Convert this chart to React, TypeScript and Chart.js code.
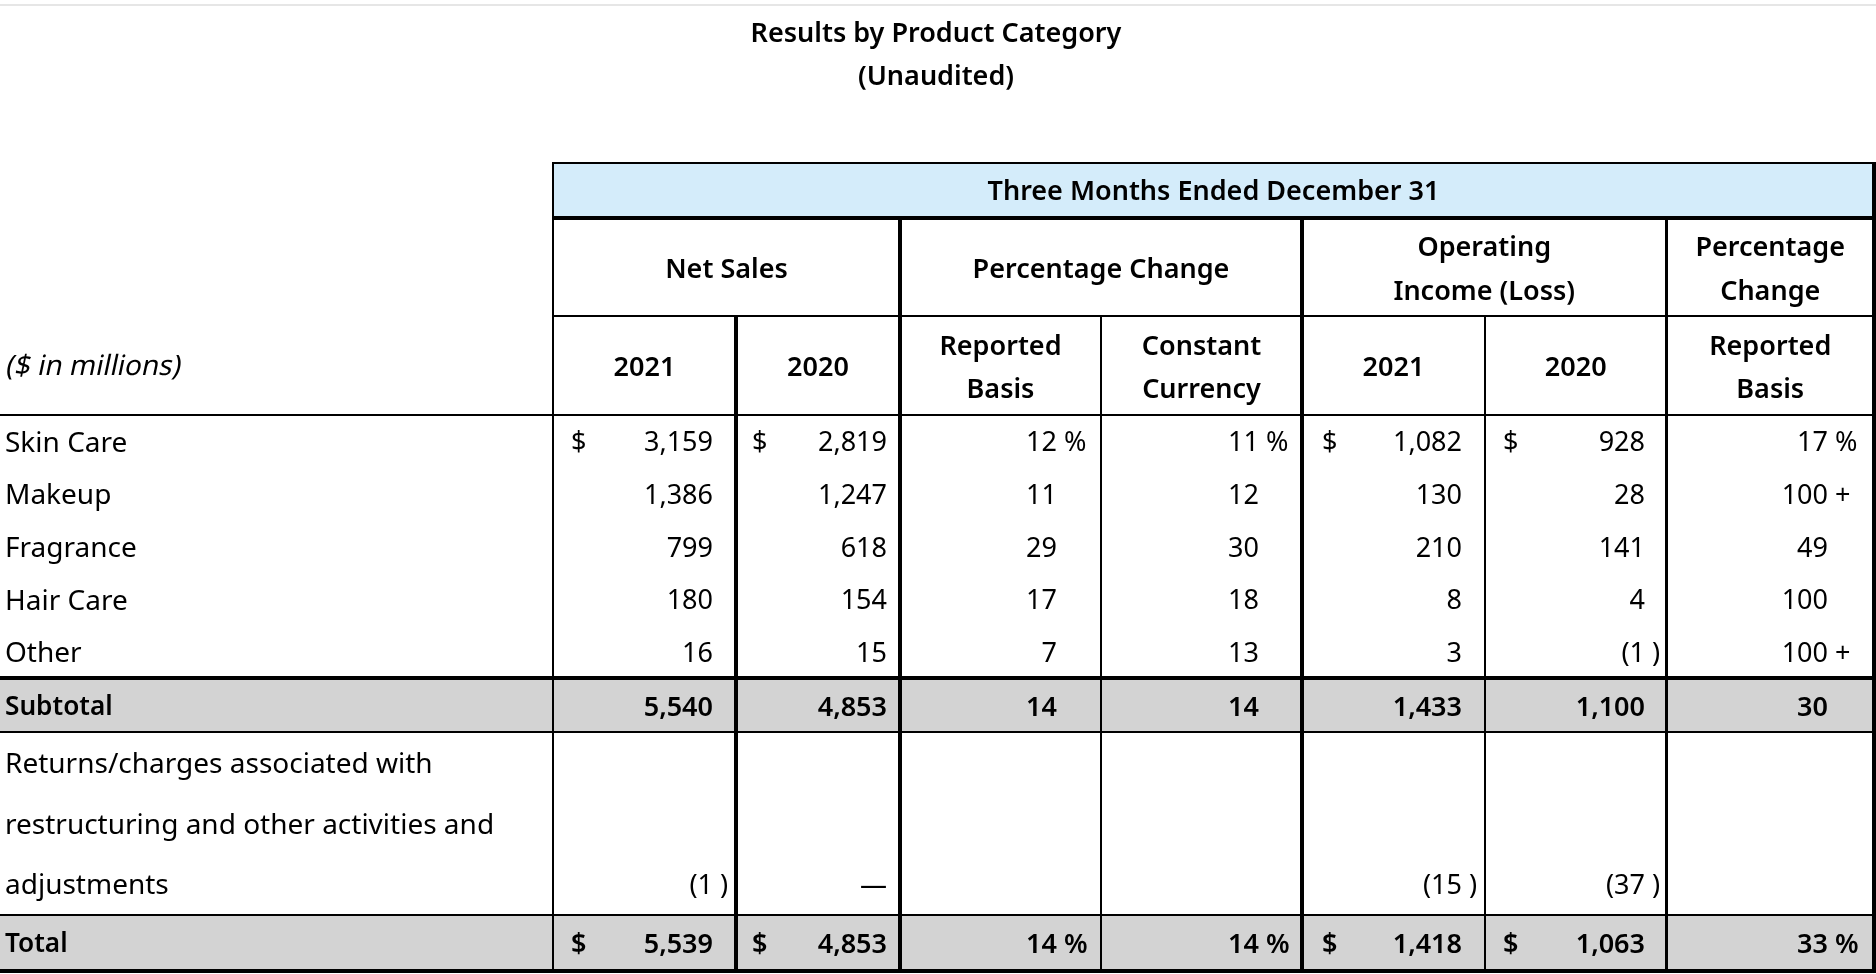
import React, { useEffect, useRef } from "react";
import { Chart, registerables } from "chart.js";

Chart.register(...registerables);

// ---------- data ----------
const titleLines = ["Results by Product Category", "(Unaudited)"];
const periodLabel = "Three Months Ended December 31";
const groupHeaders = ["Net Sales", "Percentage Change", "Operating\nIncome (Loss)", "Percentage\nChange"];
const columnHeaders = ["2021", "2020", "Reported\nBasis", "Constant\nCurrency", "2021", "2020", "Reported\nBasis"];
const unitsLabel = "($ in millions)";

const categories = ["Skin Care", "Makeup", "Fragrance", "Hair Care", "Other"];
const netSales2021 = [3159, 1386, 799, 180, 16];
const netSales2020 = [2819, 1247, 618, 154, 15];
const netSalesReportedPct = [12, 11, 29, 17, 7];
const netSalesConstantPct = [11, 12, 30, 18, 13];
const opIncome2021 = [1082, 130, 210, 8, 3];
const opIncome2020 = [928, 28, 141, 4, -1];
const opIncomeReportedPct: (number | string)[] = [17, "100+", 49, 100, "100+"];

const subtotalLabel = "Subtotal";
const subtotalValues: (number | string | null)[] = [5540, 4853, 14, 14, 1433, 1100, 30];
const returnsLabel = ["Returns/charges associated with", "restructuring and other activities and", "adjustments"];
const returnsValues: (number | string | null)[] = [-1, 0, null, null, -15, -37, null];
const totalLabel = "Total";
const totalValues: (number | string | null)[] = [5539, 4853, 14, 14, 1418, 1063, 33];

// ---------- layout (pixels in the 1876x974 frame) ----------
const W = 1876;
const H = 974;
const FONT = '"Noto Sans", "Open Sans", sans-serif';
const colEdges = [553, 736, 900, 1101, 1302, 1485, 1666.5, 1874];
const colNumRight = [713, 887, 1057, 1259, 1462, 1645, 1828];
const colDollarLeft: (number | null)[] = [571, 752, null, null, 1322, 1503, null];
const colIsPct = [false, false, true, true, false, false, true];
const headTop = 163;
const headRow1Bottom = 218;
const headRow2Bottom = 316;
const headRow3Bottom = 415;
const dataRowH = 52.6;
const subtotalTop = 678;
const subtotalBottom = 732;
const totalTop = 915;
const totalBottom = 971;

const tablePlugin = {
  id: "tableDraw",
  afterDraw(chart: any) {
    const ctx: CanvasRenderingContext2D = chart.ctx;
    const sx = chart.scales.x;
    const sy = chart.scales.y;
    const X = (v: number) => sx.getPixelForValue(v);
    const Y = (v: number) => sy.getPixelForValue(v);
    const cap = (size: number) => size * 0.357;

    const text = (s: string, x: number, cy: number, align: CanvasTextAlign, size: number, weight = "normal", oblique = false) => {
      ctx.save();
      ctx.font = `normal ${weight} ${size}px ${FONT}`;
      ctx.fillStyle = "#000";
      ctx.textAlign = align;
      ctx.textBaseline = "alphabetic";
      const px = X(x);
      const py = Y(cy + cap(size));
      if (oblique) {
        ctx.translate(px, py);
        ctx.transform(1, 0, -0.21, 1, 0, 0);
        ctx.fillText(s, 0, 0);
      } else {
        ctx.fillText(s, px, py);
      }
      ctx.restore();
    };
    const multi = (s: string, x: number, cy: number, gap: number, size: number, weight = "normal") => {
      const lines = s.split("\n");
      const start = cy - ((lines.length - 1) * gap) / 2;
      lines.forEach((ln, i) => text(ln, x, start + i * gap, "center", size, weight));
    };
    const rect = (x0: number, y0: number, x1: number, y1: number, color: string) => {
      ctx.fillStyle = color;
      ctx.fillRect(X(x0), Y(y0), X(x1) - X(x0), Y(y1) - Y(y0));
    };
    const hline = (y: number, x0: number, x1: number, w: number) => rect(x0, y - w / 2, x1, y + w / 2, "#000");
    const vline = (x: number, y0: number, y1: number, w: number) => rect(x - w / 2, y0, x + w / 2, y1, "#000");

    ctx.save();
    // background
    rect(0, 0, W, H, "#ffffff");
    rect(0, 4, W, 6, "#e6e6e6");
    rect(colEdges[0], headTop, colEdges[7], headRow1Bottom, "#d4ecfa");
    rect(0, subtotalTop, colEdges[7], subtotalBottom, "#d3d3d3");
    rect(0, totalTop, colEdges[7], totalBottom, "#d3d3d3");

    const SEMI = "600";
    // titles
    text(titleLines[0], 936, 32, "center", 27, SEMI);
    text(titleLines[1], 936, 75, "center", 27, SEMI);

    // headers
    const HS = 27;
    text(periodLabel, (colEdges[0] + colEdges[7]) / 2, (headTop + headRow1Bottom) / 2, "center", HS, SEMI);
    const groupSpans = [[0, 2], [2, 4], [4, 6], [6, 7]];
    groupHeaders.forEach((g, i) => {
      const [a, b] = groupSpans[i];
      multi(g, (colEdges[a] + colEdges[b]) / 2, (headRow1Bottom + headRow2Bottom) / 2 + 1.5, 44, HS, SEMI);
    });
    columnHeaders.forEach((c, i) => {
      multi(c, (colEdges[i] + colEdges[i + 1]) / 2, (headRow2Bottom + headRow3Bottom) / 2 + 1, 43, HS, SEMI);
    });
    text(unitsLabel, 5, (headRow2Bottom + headRow3Bottom) / 2, "left", 28, "normal", true);

    // cells
    const BS = 28;
    const cell = (v: number | string | null, col: number, cy: number, weight: string, withSymbol: boolean, size: number) => {
      if (withSymbol && colDollarLeft[col] !== null) text("$", colDollarLeft[col] as number, cy, "left", size, weight);
      if (v === null) return;
      const r = colNumRight[col];
      let num = "";
      let suffix = "";
      if (typeof v === "string") {
        const plus = v.endsWith("+");
        num = plus ? v.slice(0, -1) : v;
        if (plus) suffix = " +";
      } else if (v === 0) {
        num = "\u2014";
      } else if (v < 0) {
        num = "(" + Math.abs(v).toLocaleString("en-US");
        suffix = " )";
      } else {
        num = v.toLocaleString("en-US");
        if (withSymbol && colIsPct[col]) suffix = " %";
      }
      text(num, r, cy, "right", size, weight);
      if (suffix) text(suffix, r, cy, "left", size, weight);
    };

    const series = [netSales2021, netSales2020, netSalesReportedPct, netSalesConstantPct, opIncome2021, opIncome2020, opIncomeReportedPct];
    categories.forEach((cat, i) => {
      const cy = headRow3Bottom + dataRowH * (i + 0.5) + 0.5;
      text(cat, 5, cy, "left", BS);
      series.forEach((s, c) => cell(s[i] as any, c, cy, "normal", i === 0, 27));
    });

    const subCy = (subtotalTop + subtotalBottom) / 2 + 1;
    text(subtotalLabel, 5, subCy, "left", 26.2, SEMI);
    subtotalValues.forEach((v, c) => cell(v, c, subCy, SEMI, false, 27));

    const retLines = [763, 824, 884];
    returnsLabel.forEach((ln, i) => text(ln, 5, retLines[i], "left", BS));
    returnsValues.forEach((v, c) => cell(v, c, retLines[2], "normal", false, 27));

    const totCy = (totalTop + totalBottom) / 2;
    text(totalLabel, 5, totCy, "left", 26.2, SEMI);
    totalValues.forEach((v, c) => cell(v, c, totCy, SEMI, true, 27));

    // grid lines
    const right = colEdges[7] + 2;
    hline(headTop, colEdges[0] - 1, right, 2);
    hline(headRow1Bottom, colEdges[0] - 1, right, 4);
    hline(headRow2Bottom, colEdges[0] - 1, right, 2);
    hline(headRow3Bottom, 0, right, 2);
    hline(subtotalTop, 0, right, 4);
    hline(subtotalBottom, 0, right, 2);
    hline(totalTop, 0, right, 2);
    hline(totalBottom, 0, right, 4);

    const bottom = totalBottom + 2;
    vline(colEdges[0], headTop - 1, bottom, 2);
    vline(colEdges[1], headRow2Bottom, bottom, 4);
    vline(colEdges[2], headRow1Bottom, bottom, 4);
    vline(colEdges[3], headRow2Bottom, bottom, 2);
    vline(colEdges[4], headRow1Bottom, bottom, 4);
    vline(colEdges[5], headRow2Bottom, bottom, 2);
    vline(colEdges[6], headRow1Bottom, bottom, 3);
    vline(colEdges[7], headTop - 1, bottom, 4);
    ctx.restore();
  },
};

export default function App() {
  const ref = useRef<HTMLCanvasElement | null>(null);
  useEffect(() => {
    document.body.style.margin = "0";
    document.body.style.background = "#fff";
    if (!ref.current) return;
    const chart = new Chart(ref.current, {
      type: "scatter",
      data: { datasets: [{ data: [], pointRadius: 0 }] },
      options: {
        responsive: false,
        animation: false,
        devicePixelRatio: 1,
        layout: { padding: 0 },
        plugins: { legend: { display: false }, tooltip: { enabled: false }, title: { display: false } },
        scales: {
          x: { type: "linear", min: 0, max: W, display: false },
          y: { type: "linear", min: 0, max: H, reverse: true, display: false },
        },
      },
      plugins: [tablePlugin],
    });
    return () => chart.destroy();
  }, []);
  return (
    <div style={{ width: W, height: H, overflow: "hidden" }}>
      <canvas ref={ref} width={W} height={H} style={{ display: "block", width: W, height: H }} />
    </div>
  );
}
